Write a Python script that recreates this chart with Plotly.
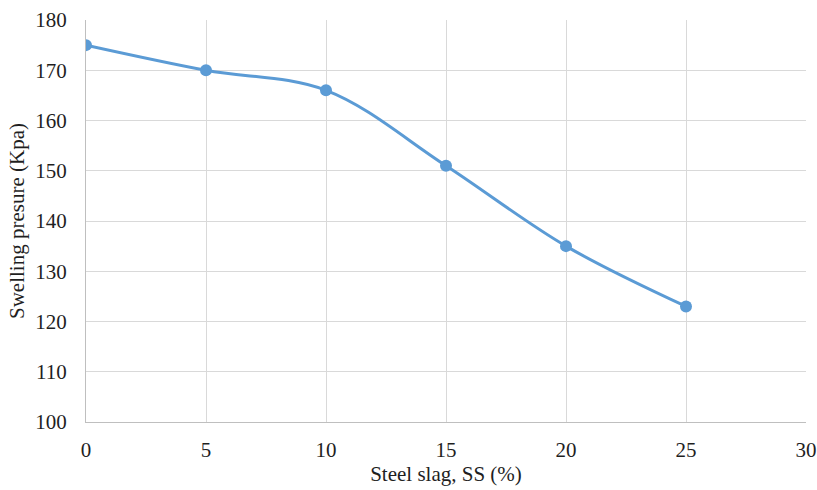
import plotly.graph_objects as go

ss_percent = [0, 5, 10, 15, 20, 25]
swelling_pressure = [175, 170, 166, 151, 135, 123]

x_ticks = [0, 5, 10, 15, 20, 25, 30]
y_ticks = [100, 110, 120, 130, 140, 150, 160, 170, 180]

color = "#5B9BD5"
font_family = "Liberation Serif, Times New Roman, serif"
text_color = "#1f1f1f"

fig = go.Figure()
fig.add_trace(go.Scatter(
    x=ss_percent, y=swelling_pressure,
    mode="lines+markers",
    line=dict(color=color, width=3, shape="spline", smoothing=1),
    marker=dict(color=color, size=12),
    showlegend=False,
))

fig.update_layout(
    width=817, height=490,
    margin=dict(l=86, r=11, t=20, b=68),
    paper_bgcolor="white", plot_bgcolor="white",
    font=dict(family=font_family, size=21, color=text_color),
    xaxis=dict(
        range=[0, 30], tickvals=x_ticks, ticktext=[str(v) for v in x_ticks],
        showgrid=True, gridcolor="#D9D9D9", gridwidth=1.3,
        showline=True, linecolor="#BFBFBF", linewidth=1.3,
        zeroline=False, ticks="outside", ticklen=9, tickcolor="rgba(0,0,0,0)",
        automargin=False,
        title=dict(text="Steel slag, SS (%)", font=dict(size=21), standoff=0),
        tickfont=dict(size=21),
    ),
    yaxis=dict(
        range=[100, 180], tickvals=y_ticks, ticktext=[str(v) for v in y_ticks],
        showgrid=True, gridcolor="#D9D9D9", gridwidth=1.3,
        showline=True, linecolor="#BFBFBF", linewidth=1.3,
        zeroline=False, ticks="outside", ticklen=14, tickcolor="rgba(0,0,0,0)",
        automargin=False,
        title=dict(text="Swelling presure (Kpa)", font=dict(size=21), standoff=4),
        tickfont=dict(size=21),
    ),
)

# Remove the default page margin so the 817x490 figure fills the window exactly.
fig.write_html(
    "out.html",
    config={"displayModeBar": False},
    post_script="document.body.style.margin='0px';document.body.style.overflow='hidden';",
)
